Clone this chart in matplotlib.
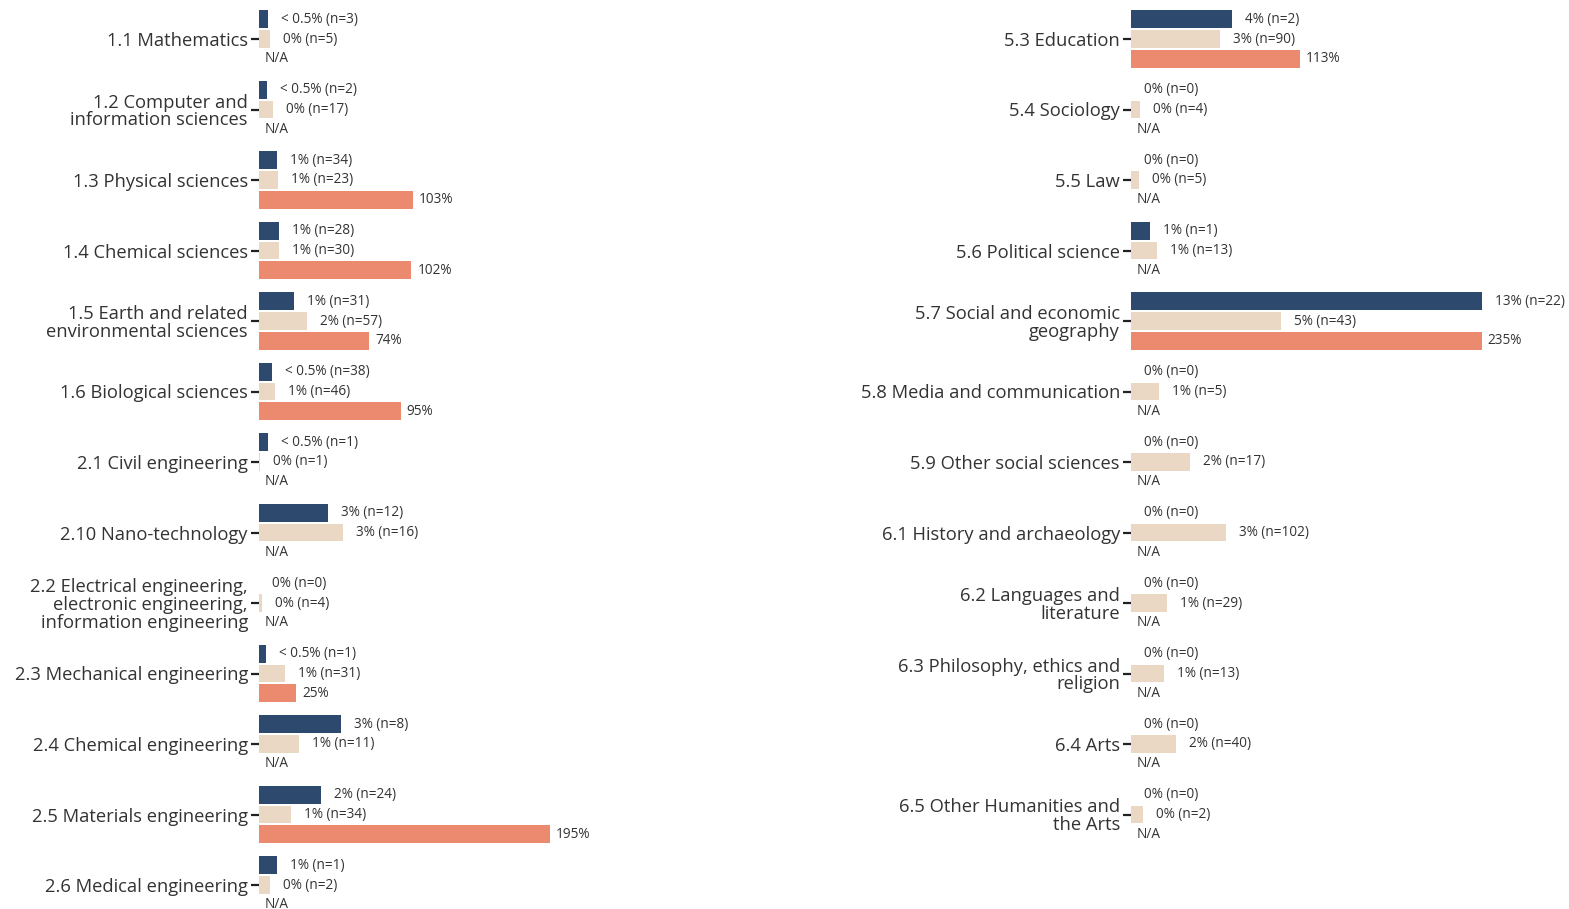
import numpy as np
import matplotlib
matplotlib.use("Agg")
import matplotlib.pyplot as plt

plt.rcParams['font.family'] = ['Open Sans', 'DejaVu Sans']

# ---- data ----
left_cats = ["1.1 Mathematics", "1.2 Computer and\ninformation sciences", "1.3 Physical sciences",
             "1.4 Chemical sciences", "1.5 Earth and related\nenvironmental sciences",
             "1.6 Biological sciences", "2.1 Civil engineering", "2.10 Nano-technology",
             "2.2 Electrical engineering,\nelectronic engineering,\ninformation engineering",
             "2.3 Mechanical engineering", "2.4 Chemical engineering",
             "2.5 Materials engineering", "2.6 Medical engineering"]
left_navy = [0.33, 0.30, 0.67, 0.74, 1.30, 0.49, 0.33, 2.56, 0.0, 0.26, 3.04, 2.30, 0.67]
left_navy_lbl = ["< 0.5%", "< 0.5%", "1%", "1%", "1%", "< 0.5%", "< 0.5%", "3%", "0%", "< 0.5%", "3%", "2%", "1%"]
left_navy_n = [3, 2, 34, 28, 31, 38, 1, 12, 0, 1, 8, 24, 1]
left_beige = [0.41, 0.52, 0.70, 0.74, 1.78, 0.59, 0.04, 3.11, 0.11, 0.96, 1.48, 1.19, 0.41]
left_beige_lbl = ["0%", "0%", "1%", "1%", "2%", "1%", "0%", "3%", "0%", "1%", "1%", "1%", "0%"]
left_beige_n = [5, 17, 23, 30, 57, 46, 1, 16, 4, 31, 11, 34, 2]
left_ratio = [np.nan, np.nan, 103, 102, 74, 95, np.nan, np.nan, np.nan, 25, np.nan, 195, np.nan]

right_cats = ["5.3 Education", "5.4 Sociology", "5.5 Law", "5.6 Political science",
              "5.7 Social and economic\ngeography", "5.8 Media and communication",
              "5.9 Other social sciences", "6.1 History and archaeology",
              "6.2 Languages and\nliterature", "6.3 Philosophy, ethics and\nreligion",
              "6.4 Arts", "6.5 Other Humanities and\nthe Arts"]
right_navy = [3.74, 0, 0, 0.70, 13.0, 0, 0, 0, 0, 0, 0, 0]
right_navy_lbl = ["4%", "0%", "0%", "1%", "13%", "0%", "0%", "0%", "0%", "0%", "0%", "0%"]
right_navy_n = [2, 0, 0, 1, 22, 0, 0, 0, 0, 0, 0, 0]
right_beige = [3.30, 0.33, 0.30, 0.96, 5.56, 1.04, 2.19, 3.52, 1.33, 1.22, 1.67, 0.44]
right_beige_lbl = ["3%", "0%", "0%", "1%", "5%", "1%", "2%", "3%", "1%", "1%", "2%", "0%"]
right_beige_n = [90, 4, 5, 13, 43, 5, 17, 102, 29, 13, 40, 2]
right_ratio = [113, np.nan, np.nan, np.nan, 235, np.nan, np.nan, np.nan, np.nan, np.nan, np.nan, np.nan]

NAVY = "#2d4a6e"
BEIGE = "#ead8c4"
SALMON = "#ec8a70"

# share bars are stretched so the biggest share lines up with the biggest ratio
SCALE = 235 / 13.0
XMAX = 240
NROWS = 13

W, H = 1569, 909
fig = plt.figure(figsize=(W / 100, H / 100), dpi=100)

row_px = 70.5
top_px = 39 - row_px / 2
ax_h = NROWS * row_px / H
ax_w = XMAX * 1.493 / W
ax_l = fig.add_axes([259 / W, 1 - top_px / H - ax_h, ax_w, ax_h])
ax_r = fig.add_axes([1131 / W, 1 - top_px / H - ax_h, ax_w, ax_h])

px = XMAX / (ax_w * W)  # data units per pixel
LBL_SIZE = 9.8


def draw(ax, cats, navy, navy_lbl, navy_n, beige, beige_lbl, beige_n, ratio):
    y = np.arange(len(cats))
    navy_v = np.array(navy) * SCALE
    beige_v = np.array(beige) * SCALE
    ratio_v = np.array(ratio, dtype=float)
    off = 0.278
    h = 0.255
    ax.barh(y - off, navy_v, height=h, color=NAVY)
    ax.barh(y, beige_v, height=h, color=BEIGE)
    ax.barh(y + off, np.nan_to_num(ratio_v), height=h, color=SALMON)
    for i in range(len(cats)):
        ax.text(navy_v[i] + 13 * px, y[i] - off, f"{navy_lbl[i]} (n={navy_n[i]})",
                va="center", ha="left", fontsize=LBL_SIZE, color="#333333", clip_on=False)
        ax.text(beige_v[i] + 13 * px, y[i], f"{beige_lbl[i]} (n={beige_n[i]})",
                va="center", ha="left", fontsize=LBL_SIZE, color="#333333", clip_on=False)
        if np.isnan(ratio_v[i]):
            ax.text(6 * px, y[i] + off, "N/A", va="center", ha="left",
                    fontsize=LBL_SIZE, color="#333333", clip_on=False)
        else:
            ax.text(ratio_v[i] + 6 * px, y[i] + off, f"{ratio_v[i]:.0f}%", va="center",
                    ha="left", fontsize=LBL_SIZE, color="#333333", clip_on=False)
    ax.set_yticks(y)
    ax.set_yticklabels(cats, fontsize=13.2, color="#333333", linespacing=0.98)
    ax.set_ylim(NROWS - 0.5, -0.5)
    ax.set_xlim(0, XMAX)
    ax.set_xticks([])
    for s in ax.spines.values():
        s.set_visible(False)
    ax.tick_params(axis="y", length=6, width=1.6, color="#222222", pad=2)


draw(ax_l, left_cats, left_navy, left_navy_lbl, left_navy_n,
     left_beige, left_beige_lbl, left_beige_n, left_ratio)
draw(ax_r, right_cats, right_navy, right_navy_lbl, right_navy_n,
     right_beige, right_beige_lbl, right_beige_n, right_ratio)

fig.savefig("out.png", dpi=100)
